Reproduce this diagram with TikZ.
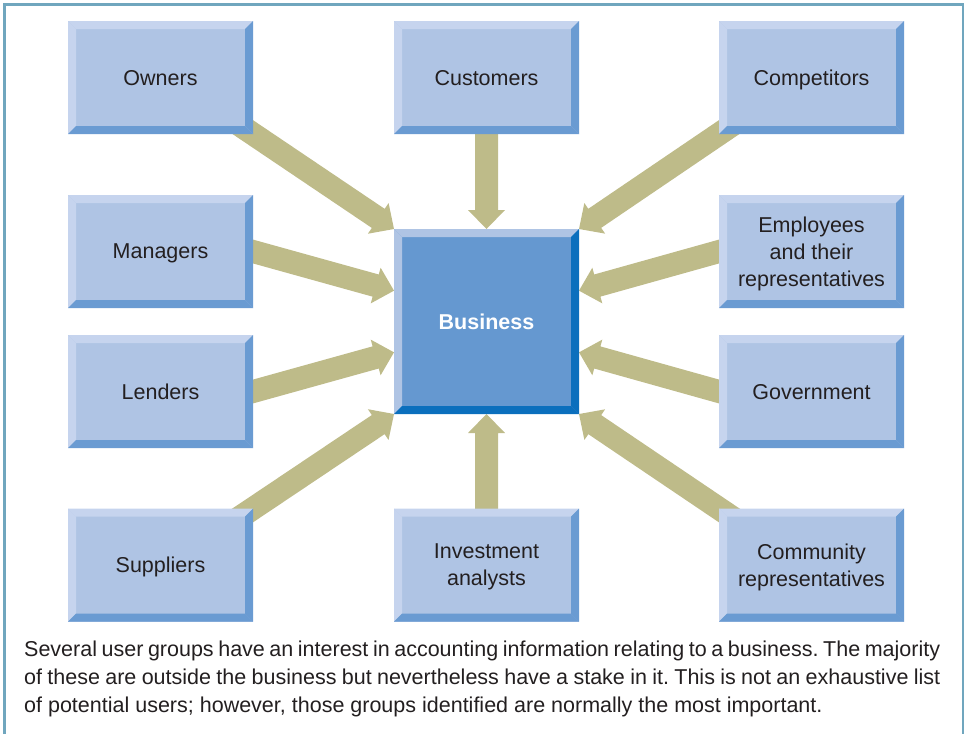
\documentclass[tikz,border=0pt]{standalone}
\usepackage{fontspec}
\setmainfont{Liberation Sans}
\usetikzlibrary{calc}

\pgfdeclarelayer{background}
\pgfsetlayers{background,main}

\definecolor{facelight}{RGB}{198,212,238}
\definecolor{faceblue}{RGB}{175,196,228}
\definecolor{facedark}{RGB}{106,155,210}
\definecolor{bizface}{RGB}{101,152,208}
\definecolor{bizdark}{RGB}{11,111,189}
\definecolor{arrowfill}{RGB}{190,187,137}
\definecolor{framecol}{RGB}{112,166,190}
\definecolor{textcol}{RGB}{35,31,32}

\tikzset{
  bevelbox/.style n args={3}{% light edge, face, dark edge
    fill=#2, draw=none, outer sep=0pt, inner sep=0pt,
    path picture={
      \coordinate (nw) at (path picture bounding box.north west);
      \coordinate (ne) at (path picture bounding box.north east);
      \coordinate (sw) at (path picture bounding box.south west);
      \coordinate (se) at (path picture bounding box.south east);
      \fill[#1] (nw) -- (ne) -- ($(ne)+(-8pt,-8pt)$) -- ($(nw)+(8pt,-8pt)$) -- cycle;
      \fill[#1] (nw) -- ($(nw)+(8pt,-8pt)$) -- ($(sw)+(8pt,8pt)$) -- (sw) -- cycle;
      \fill[#3] (ne) -- (se) -- ($(se)+(-8pt,8pt)$) -- ($(ne)+(-8pt,-8pt)$) -- cycle;
      \fill[#3] (sw) -- (se) -- ($(se)+(-8pt,8pt)$) -- ($(sw)+(8pt,8pt)$) -- cycle;
    }
  },
  userbox/.style={
    bevelbox={facelight}{faceblue}{facedark},
    minimum width=185pt, minimum height=113pt,
    align=center, text=textcol, text depth=-3pt,
    font=\fontsize{21.5pt}{27pt}\selectfont
  },
  bizbox/.style={
    bevelbox={faceblue}{bizface}{bizdark},
    minimum width=185pt, minimum height=185pt,
    text=white, font=\fontsize{21.5pt}{27pt}\selectfont\bfseries
  },
  captext/.style={anchor=base west, inner sep=0pt, text=textcol,
    text width=916pt, align=justify,
    font=\fontsize{21.5pt}{28pt}\selectfont\frenchspacing},
  framestyle/.style={draw=framecol, line width=2.5pt}
}

% broad arrow from tail point #1 to tip point #2
\newcommand{\fatarrow}[2]{%
  \fill[arrowfill] let \p1=(#1), \p2=(#2),
      \n1={atan2(\y2-\y1,\x2-\x1)}, \n2={veclen(\x2-\x1,\y2-\y1)} in
    ($(\p1)+(\n1+90:11.5pt)$)
    -- ($(\p1)+(\n1:\n2-19pt)+(\n1+90:11.5pt)$)
    -- ($(\p1)+(\n1:\n2-19pt)+(\n1+90:18.5pt)$)
    -- (\p2)
    -- ($(\p1)+(\n1:\n2-19pt)+(\n1-90:18.5pt)$)
    -- ($(\p1)+(\n1:\n2-19pt)+(\n1-90:11.5pt)$)
    -- ($(\p1)+(\n1-90:11.5pt)$) -- cycle;
}

\begin{document}
\begin{tikzpicture}[x=1pt, y=-1pt]
\useasboundingbox (0,0) rectangle (965,734);

% outer frame, open at the foot
\draw[framestyle] (4.5,734) -- (4.5,4.5) -- (963,4.5) -- (963,734);

% the business in the middle
\node[bizbox] (biz) at (486.5,321.5) {Business};

% user groups around it
\node[userbox] (owners)      at (160.5,77.5)  {Owners};
\node[userbox] (customers)   at (486.5,77.5)  {Customers};
\node[userbox] (competitors) at (811.5,77.5)  {Competitors};
\node[userbox] (managers)    at (160.5,251.5) {Managers};
\node[userbox] (employees)   at (811.5,251.5) {Employees\\and their\\representatives};
\node[userbox] (lenders)     at (160.5,391.5) {Lenders};
\node[userbox] (government)  at (811.5,391.5) {Government};
\node[userbox] (suppliers)   at (160.5,565)   {Suppliers};
\node[userbox] (investment)  at (486.5,565)   {Investment\\analysts};
\node[userbox] (community)   at (811.5,565)   {Community\\representatives};

% arrow tips on the sides of the business box
\coordinate (bl1) at ($(biz.north west)!1/3!(biz.south west)$);
\coordinate (bl2) at ($(biz.north west)!2/3!(biz.south west)$);
\coordinate (br1) at ($(biz.north east)!1/3!(biz.south east)$);
\coordinate (br2) at ($(biz.north east)!2/3!(biz.south east)$);

% arrow tails, set back behind the user boxes
\coordinate (t1)  at ($(owners.south east)!-30pt!(biz.north west)$);
\coordinate (t2)  at ($(customers.south)!-30pt!(biz.north)$);
\coordinate (t3)  at ($(competitors.south west)!-30pt!(biz.north east)$);
\coordinate (t4)  at ($(managers.east)!-30pt!(bl1)$);
\coordinate (t5)  at ($(employees.west)!-30pt!(br1)$);
\coordinate (t6)  at ($(lenders.east)!-30pt!(bl2)$);
\coordinate (t7)  at ($(government.west)!-30pt!(br2)$);
\coordinate (t8)  at ($(suppliers.north east)!-30pt!(biz.south west)$);
\coordinate (t9)  at ($(investment.north)!-30pt!(biz.south)$);
\coordinate (t10) at ($(community.north west)!-30pt!(biz.south east)$);

\begin{pgfonlayer}{background}
  \fatarrow{t1}{biz.north west}
  \fatarrow{t2}{biz.north}
  \fatarrow{t3}{biz.north east}
  \fatarrow{t4}{bl1}
  \fatarrow{t5}{br1}
  \fatarrow{t6}{bl2}
  \fatarrow{t7}{br2}
  \fatarrow{t8}{biz.south west}
  \fatarrow{t9}{biz.south}
  \fatarrow{t10}{biz.south east}
\end{pgfonlayer}

% caption
\node[captext] (caption) at (24,656) {Several user groups have an interest in accounting information relating to a business. The majority\linebreak
of these are outside the business but nevertheless have a stake in it. This is not an exhaustive list\linebreak
of potential users; however, those groups identified are normally the most important.};
\end{tikzpicture}
\end{document}
